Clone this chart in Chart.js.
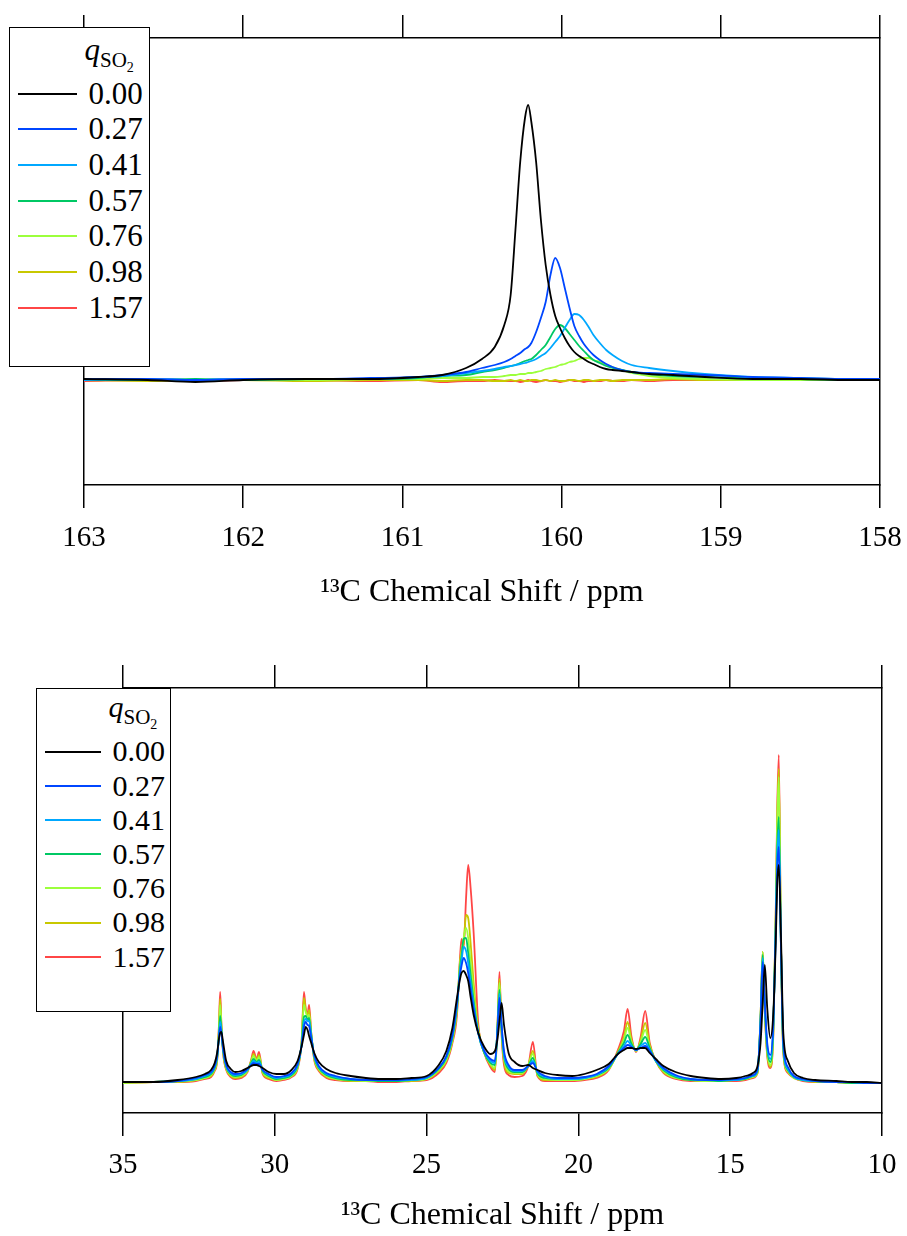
<!DOCTYPE html>
<html>
<head>
<meta charset="utf-8">
<script src="https://cdn.jsdelivr.net/npm/chart.js@4.4.0/dist/chart.umd.min.js"></script>
<style>
body { margin:0; background:#fff; width:907px; height:1236px; position:relative; overflow:hidden;
       font-family:"Liberation Serif","Times New Roman",serif; color:#000; }
canvas { position:absolute; left:0; z-index:1; }
.legend { position:absolute; background:#fff; border:1.5px solid #000; box-sizing:border-box; z-index:2; }
.legend .hd { position:absolute; line-height:1; white-space:nowrap; }
.legend .hd sub { font-size:21px; vertical-align:-7px; line-height:1; }
.legend .hd sub sub { font-size:14px; vertical-align:-5px; }
.legend .row { position:absolute; white-space:nowrap; }
.legend .sw { position:absolute; height:2px; }
</style>
</head>
<body>
<canvas id="top" width="907" height="620" style="top:0"></canvas>
<canvas id="low" width="907" height="616" style="top:620px"></canvas>
<div id="legTop" class="legend"></div>
<div id="legLow" class="legend"></div>
<script>
// SO2 loadings and line colours
var qLabels = ['0.00', '0.27', '0.41', '0.57', '0.76', '0.98', '1.57'];
var qColors = ['#000000', '#0046ff', '#00a8ff', '#00c864', '#9cff3c', '#c8c800', '#ff4646'];

// carbonyl region, 163 - 158 ppm (intensity, arbitrary units)
var topPpm = [163.0, 162.6, 162.3, 162.0, 161.6, 161.2, 160.9, 160.75, 160.6, 160.5, 160.42, 160.36, 160.32,
  160.29, 160.26, 160.23, 160.21, 160.19, 160.16, 160.13, 160.10, 160.07, 160.04, 160.01, 159.98, 159.95,
  159.92, 159.89, 159.86, 159.83, 159.80, 159.76, 159.72, 159.68, 159.62, 159.56, 159.45, 159.3, 159.1,
  158.8, 158.5, 158.2, 158.0];
var top000 = [1,0,-2,0,1,1,3,5,12,21,33,55,85,150,218,262,275,258,218,160,115,85,64,52,42,34,28,24,21,18,16,13,11,10,9,8,6,5,3,1,1,0,0];
var top027 = [1,1,0,1,1,2,3,5,8,12,15,18,21,24,27,31,33,37,48,62,78,105,122,112,92,72,54,44,36,30,25,20,16,13,10,8,7,6,5,3,2,1,1];
var top041 = [0,1,0,1,1,1,3,4,7,9,11,13,14,15,16,17,18,19,21,24,27,32,38,44,52,60,66,65,60,53,45,37,30,25,19,15,12,9,6,3,2,1,1];
var top057 = [0,0,1,0,1,1,2,4,5,8,10,12,14,15,17,19,20,21,25,30,35,43,51,55,52,46,40,34,29,24,20,17,14,12,10,8,6,4,3,2,1,0,0];
var top076 = [0,0,0,0,0,1,1,2,2,3,3,4,5,5,6,6,7,7,8,9,11,12,13,15,16,18,19,21,22,22,20,18,15,13,10,7,4,2,1,0,0,0,0];
var top098 = [0,-1,0,0,-1,0,0,-1,0,0,-1,-1,0,-1,0,-1,-1,0,0,-1,0,-1,0,-1,-1,0,0,-1,0,0,-1,0,0,-1,0,0,0,1,0,0,0,0,0];
var top157 = [-1,0,-1,0,0,-1,0,-2,-1,-1,0,-1,-1,-1,-2,-1,0,-1,-2,-1,0,-1,-1,-2,-1,0,-1,-1,-2,-1,-1,-1,0,-1,-1,0,-1,0,0,0,1,0,0];

// aliphatic region, 35 - 10 ppm
var lowPpm = [35.0,34.0,33.2,32.6,32.3,32.1,
  31.98,31.9,31.84,31.8,31.76,31.7,31.6,31.45,
  31.3,31.1,30.9,30.78,30.7,30.6,30.52,30.4,30.2,
  29.95,29.7,29.45,29.25,29.12,29.04,28.98,28.92,28.87,28.8,28.7,28.55,28.3,28.0,
  27.5,27.0,26.5,26.0,25.5,25.0,
  24.6,24.35,24.15,24.0,23.9,23.85,23.78,23.7,23.63,23.55,23.45,23.3,23.1,22.9,
  22.75,22.66,22.6,22.53,22.45,22.3,22.1,
  21.85,21.65,21.5,21.35,21.1,
  20.7,20.2,19.8,19.4,19.0,
  18.7,18.5,18.38,18.25,18.1,17.95,17.8,17.65,17.45,17.2,
  16.8,16.3,15.8,15.3,14.8,14.5,14.25,
  14.1,14.0,13.93,13.86,13.78,13.68,13.58,13.5,13.45,13.4,13.33,13.25,13.1,
  12.9,12.6,12.2,11.5,11.0,10.5,10.0];
var low000 = [1,1,3,6,9,13,
  20,30,44,50,51,40,22,14,
  11,12,15,17,18,18,17,15,11,
  9,9,13,22,36,48,56,53,47,40,30,21,14,10,
  7,5,4,4,5,7,
  18,32,55,85,104,110,112,108,102,86,68,50,36,29,
  32,45,62,80,58,30,21,
  17,18,15,13,10,
  8,7,9,13,19,
  29,33,35,35,34,35,35,30,24,17,
  11,7,5,4,5,7,10,
  17,40,80,118,75,45,70,140,200,218,150,50,22,
  10,5,3,2,1,1,0];
var low027 = [1,1,2,5,8,11,
  17,27,45,56,50,34,18,11,
  9,10,14,18,20,19,19,13,9,
  6,7,10,19,37,56,61,58,57,45,28,17,10,7,
  4,3,3,3,4,6,
  15,27,48,80,108,117,125,120,110,94,74,50,32,24,
  22,55,85,58,32,18,13,
  13,17,20,12,7,
  5,5,6,9,17,
  29,35,38,36,33,35,37,32,23,15,
  8,4,3,3,4,5,8,
  14,60,121,80,40,28,60,150,215,236,140,40,16,
  7,4,2,1,1,0,0];
var low041 = [1,1,2,4,7,10,
  16,26,46,61,52,33,17,10,
  8,9,13,19,22,20,21,13,8,
  5,6,9,18,37,60,64,62,62,47,27,16,9,6,
  4,3,3,3,3,5,
  15,26,47,78,112,122,136,132,120,100,78,50,31,22,
  20,57,89,56,29,16,12,
  12,17,22,11,6,
  4,4,5,8,16,
  29,37,42,37,33,37,40,33,22,14,
  7,4,3,3,3,5,7,
  13,62,125,78,37,24,57,155,225,253,140,37,14,
  6,3,2,1,1,0,0];
var low057 = [1,1,2,4,6,9,
  15,25,48,67,54,32,16,9,
  7,8,13,20,24,21,23,12,7,
  4,5,8,17,38,66,67,63,65,48,26,15,8,5,
  3,3,2,2,3,5,
  14,25,45,76,115,127,144,145,130,108,82,50,30,20,
  18,58,93,54,27,14,11,
  11,17,25,10,5,
  4,4,5,8,15,
  30,40,48,39,33,39,46,35,22,13,
  6,3,3,2,3,4,7,
  12,64,128,76,34,21,55,160,235,266,140,35,13,
  6,3,2,1,0,0,0];
var low076 = [0,1,2,3,5,8,
  14,24,52,78,57,31,15,8,
  6,7,12,21,27,22,26,11,6,
  3,4,7,16,39,78,71,66,68,49,25,14,7,4,
  3,2,2,2,3,4,
  13,23,43,74,118,130,145,155,145,120,90,52,30,19,
  15,60,100,52,25,12,10,
  10,18,29,9,4,
  3,3,4,7,14,
  30,43,55,41,32,41,53,36,22,12,
  5,3,2,2,3,4,6,
  11,66,131,74,31,18,52,165,260,306,145,33,12,
  5,3,2,1,0,0,0];
var low098 = [0,1,1,3,5,7,
  13,23,55,84,58,30,14,7,
  5,6,12,22,29,23,28,10,5,
  3,4,7,15,40,85,73,68,73,50,24,13,6,4,
  2,2,2,2,2,4,
  12,22,42,72,122,133,140,168,165,140,100,55,30,18,
  13,61,104,50,22,10,9,
  9,18,32,8,3,
  3,3,4,6,14,
  31,46,61,43,32,43,60,38,22,11,
  5,3,2,2,3,4,6,
  10,66,131,72,29,16,50,168,265,314,145,31,11,
  5,3,1,1,0,0,0];
var low157 = [0,1,1,2,4,6,
  12,22,58,91,60,29,13,6,
  4,5,11,23,32,24,31,9,4,
  2,3,6,14,40,91,74,70,78,50,23,12,5,3,
  2,2,1,1,2,3,
  10,20,40,68,125,144,135,185,218,195,150,60,30,16,
  11,62,111,48,18,8,6,
  7,17,41,7,2,
  2,2,3,5,13,
  33,52,74,46,31,46,72,40,22,10,
  4,2,2,2,2,3,5,
  10,66,131,70,27,15,48,170,275,328,145,30,10,
  5,2,1,1,0,0,0];

Chart.defaults.font.family = '"Liberation Serif","Times New Roman",serif';
Chart.defaults.color = '#000';

// legend drawn as html so the q_SO2 header can have real sub/subscripts
var htmlLegend = {
  id: 'htmlLegend',
  afterUpdate(chart, args, o) {
    var box = document.getElementById(o.id);
    box.style.left = o.left + 'px'; box.style.top = o.top + 'px';
    box.style.width = o.w + 'px'; box.style.height = o.h + 'px';
    box.innerHTML = '';
    var hd = document.createElement('div');
    hd.className = 'hd';
    hd.innerHTML = '<i>q</i><sub>SO<sub>2</sub></sub>';
    hd.style.left = o.headX + 'px';
    hd.style.top = (o.headBase - 0.837 * o.fs) + 'px';
    hd.style.fontSize = o.fs + 'px';
    box.appendChild(hd);
    chart.options.plugins.legend.labels.generateLabels(chart).forEach(function(it, i) {
      var cy = o.firstY + i * o.pitch;
      var sw = document.createElement('div');
      sw.className = 'sw';
      sw.style.cssText = 'left:' + o.lineX + 'px;top:' + (cy - 1) + 'px;width:' + o.lineW + 'px;background:' + it.strokeStyle;
      var tx = document.createElement('div');
      tx.className = 'row';
      tx.textContent = it.text;
      tx.style.cssText = 'left:' + o.textX + 'px;top:' + (cy - o.pitch / 2) + 'px;height:' + o.pitch +
        'px;line-height:' + o.pitch + 'px;font-size:' + o.fs + 'px';
      box.append(sw, tx);
    });
  }
};

function makeSpectrum(id, ppm, series, cfg) {
  var datasets = series.map(function(vals, i) {
    return {
      label: qLabels[i],
      data: ppm.map(function(p, j) { return {x: p, y: vals[j]}; }),
      borderColor: qColors[i],
      backgroundColor: qColors[i],
      borderWidth: 1.8,
      pointRadius: 0,
      cubicInterpolationMode: 'monotone',
      fill: false
    };
  });
  var frame = {display: true, color: '#000', width: 1.5};
  var tickGrid = {display: true, drawOnChartArea: false, drawTicks: true, tickLength: 23, color: '#000', lineWidth: 1.5};
  return new Chart(document.getElementById(id), {
    type: 'line',
    data: {datasets: datasets},
    options: {
      responsive: false, animation: false, devicePixelRatio: 1, events: [],
      layout: {padding: 0},
      scales: {
        x: {
          type: 'linear', position: 'bottom', reverse: true, min: cfg.xMin, max: cfg.xMax,
          border: frame, grid: tickGrid,
          ticks: {stepSize: cfg.step, color: '#000', font: {size: 29}, padding: cfg.labelPad, maxRotation: 0},
          title: {display: true, text: '¹³C Chemical Shift / ppm', color: '#000', font: {size: 32},
                  padding: {top: 0, bottom: cfg.titlePad}},
          afterFit: function(s) { s.height = cfg.bottomH; s.paddingLeft = 0; s.paddingRight = 0; }
        },
        xTop: {
          type: 'linear', position: 'top', reverse: true, min: cfg.xMin, max: cfg.xMax,
          border: frame, grid: tickGrid,
          ticks: {stepSize: cfg.step, display: false},
          afterFit: function(s) { s.height = cfg.topH; s.paddingLeft = 0; s.paddingRight = 0; }
        },
        y: {
          type: 'linear', position: 'left', min: cfg.yMin, max: cfg.yMax,
          border: frame, grid: {display: false}, ticks: {display: false},
          afterFit: function(s) { s.width = cfg.leftW; }
        },
        yRight: {
          type: 'linear', position: 'right', min: cfg.yMin, max: cfg.yMax,
          border: frame, grid: {display: false}, ticks: {display: false},
          afterFit: function(s) { s.width = cfg.rightW; }
        }
      },
      plugins: {legend: {display: false}, tooltip: {enabled: false}, htmlLegend: cfg.legend}
    },
    plugins: [htmlLegend]
  });
}

makeSpectrum('top', topPpm, [top000, top027, top041, top057, top076, top098, top157], {
  xMin: 158, xMax: 163, step: 1, yMin: -105, yMax: 342,
  leftW: 84, rightW: 27, topH: 38, bottomH: 135, labelPad: 13, titlePad: 8,
  legend: {id: 'legTop', left: 9, top: 27, w: 141, h: 340, headX: 74.5, headBase: 31.5, fs: 31,
           lineX: 7.5, lineW: 59, textX: 78.5, firstY: 65.5, pitch: 35.7}
});

makeSpectrum('low', lowPpm, [low000, low027, low041, low057, low076, low098, low157], {
  xMin: 10, xMax: 35, step: 5, yMin: -30, yMax: 395,
  leftW: 123, rightW: 25, topH: 68, bottomH: 123, labelPad: 12, titlePad: 1,
  legend: {id: 'legLow', left: 36, top: 688, w: 135, h: 324, headX: 71.5, headBase: 28.5, fs: 30,
           lineX: 7.5, lineW: 56, textX: 75.5, firstY: 62.5, pitch: 34.2}
});
</script>
</body>
</html>
